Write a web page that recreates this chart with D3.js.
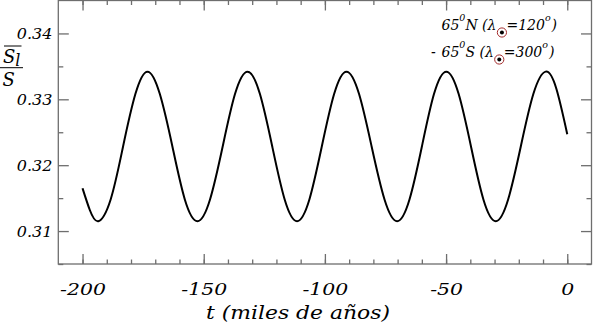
<!DOCTYPE html>
<html>
<head>
<meta charset="utf-8">
<script src="https://cdn.jsdelivr.net/npm/d3@7"></script>
<style>
  body { margin: 0; background: #fff; }
  svg { display: block; }
  .serif { font-family: 'DejaVu Serif', serif; font-style: italic; fill: #000; }
</style>
</head>
<body>
<div id="chart"></div>
<script>
// time in thousands of years, ratio S_l / S
const tValues = [-200, -197, -193.5, -188.4, -183.3, -178.2, -173.2, -168.1, -162.9, -157.8,
  -152.6, -147.4, -142.2, -137.1, -131.9, -126.8, -121.7, -116.6, -111.5, -106.4,
  -101.3, -96.2, -91.1, -85.9, -80.7, -75.4, -70.2, -65.1, -60.0, -55.0,
  -49.9, -44.8, -39.7, -34.6, -29.5, -24.4, -19.2, -14.0, -8.9, -4.5, 0];
const ratioValues = [0.3165, 0.3132, 0.3115, 0.3148, 0.3228, 0.3308, 0.3342, 0.3308, 0.3228, 0.3148,
  0.3115, 0.3148, 0.3228, 0.3308, 0.3342, 0.3308, 0.3228, 0.3148, 0.3115, 0.3148,
  0.3228, 0.3308, 0.3342, 0.3308, 0.3228, 0.3148, 0.3115, 0.3148, 0.3228, 0.3308,
  0.3342, 0.3308, 0.3228, 0.3148, 0.3115, 0.3148, 0.3228, 0.3308, 0.3342, 0.3316, 0.3247];

const xMajor = [-200, -150, -100, -50, 0];
const xMinor = d3.range(-200, 10, 10);
const yMajor = [0.31, 0.32, 0.33, 0.34];
const yMinor = [0.305, 0.315, 0.325, 0.335];
const legendLines = [
  { prefix: '', lat: '65', hemi: 'N', lambda: '120' },
  { prefix: '-', lat: '65', hemi: 'S', lambda: '300' }
];

const width = 593, height = 323;
const plotLeft = 58.3, plotRight = 591.5, plotTop = 0.5, plotBottom = 264;

const x = d3.scaleLinear().domain([-210, 10]).range([plotLeft, plotRight]);
const y = d3.scaleLinear().domain([0.305, 0.345]).range([plotBottom, plotTop]);

const svg = d3.select('#chart')
  .append('svg')
  .attr('width', width)
  .attr('height', height);

const axisColor = '#6e6e6e';

// widen the glyphs a bit, the original font is broader than DejaVu
function stretch(sel, factor) {
  sel.each(function () {
    const w = this.getComputedTextLength();
    d3.select(this)
      .attr('textLength', w * factor)
      .attr('lengthAdjust', 'spacingAndGlyphs');
  });
}

// frame
svg.append('rect')
  .attr('x', plotLeft)
  .attr('y', plotTop)
  .attr('width', plotRight - plotLeft)
  .attr('height', plotBottom - plotTop)
  .attr('fill', 'none')
  .attr('stroke', axisColor)
  .attr('stroke-width', 1.3);

function styleAxis(g) {
  g.select('.domain').remove();
  g.selectAll('.tick line').attr('stroke', axisColor).attr('stroke-width', 1.3);
}

// minor ticks on all sides
svg.append('g').attr('transform', `translate(0,${plotBottom})`)
  .call(d3.axisBottom(x).tickValues(xMinor).tickSize(-4.5).tickFormat(''))
  .call(styleAxis);
svg.append('g').attr('transform', `translate(0,${plotTop})`)
  .call(d3.axisTop(x).tickValues(xMinor).tickSize(-4.5).tickFormat(''))
  .call(styleAxis);
svg.append('g').attr('transform', `translate(${plotLeft},0)`)
  .call(d3.axisLeft(y).tickValues(yMinor).tickSize(-5).tickFormat(''))
  .call(styleAxis);
svg.append('g').attr('transform', `translate(${plotRight},0)`)
  .call(d3.axisRight(y).tickValues(yMinor).tickSize(-5).tickFormat(''))
  .call(styleAxis);

// major ticks
const xBottom = svg.append('g').attr('transform', `translate(0,${plotBottom})`)
  .call(d3.axisBottom(x).tickValues(xMajor).tickSize(-10).tickFormat(d => String(d)))
  .call(styleAxis);
xBottom.selectAll('.tick text')
  .attr('class', 'serif')
  .attr('y', 31)
  .attr('dy', null)
  .style('font-size', '17px')
  .call(stretch, 1.2);
svg.append('g').attr('transform', `translate(0,${plotTop})`)
  .call(d3.axisTop(x).tickValues(xMajor).tickSize(-10).tickFormat(''))
  .call(styleAxis);
const yLeft = svg.append('g').attr('transform', `translate(${plotLeft},0)`)
  .call(d3.axisLeft(y).tickValues(yMajor).tickSize(-10.5).tickFormat(d3.format('.2f')))
  .call(styleAxis);
yLeft.selectAll('.tick text')
  .attr('class', 'serif')
  .attr('x', -6)
  .attr('dy', '0.36em')
  .style('font-size', '14px')
  .call(stretch, 1.14);
svg.append('g').attr('transform', `translate(${plotRight},0)`)
  .call(d3.axisRight(y).tickValues(yMajor).tickSize(-10.5).tickFormat(''))
  .call(styleAxis);

// curve
const points = tValues.map((t, i) => [t, ratioValues[i]]);
const line = d3.line()
  .x(d => x(d[0]))
  .y(d => y(d[1]))
  .curve(d3.curveNatural);
svg.append('path')
  .datum(points)
  .attr('d', line)
  .attr('fill', 'none')
  .attr('stroke', '#000')
  .attr('stroke-width', 2);

// x axis title
svg.append('text')
  .attr('class', 'serif')
  .attr('x', 298)
  .attr('y', 319)
  .attr('text-anchor', 'middle')
  .style('font-size', '19px')
  .text('t (miles de años)')
  .call(stretch, 1.15);

// y axis title: overline(S_l) / S
const yl = svg.append('g');
const upper = yl.append('text')
  .attr('class', 'serif')
  .attr('x', 3)
  .attr('y', 62.7)
  .style('font-size', '18px');
upper.append('tspan').text('S');
upper.append('tspan').attr('dy', 3).style('font-size', '16px').text('l');
yl.append('line')
  .attr('x1', 4).attr('x2', 21.5).attr('y1', 46).attr('y2', 46)
  .attr('stroke', '#000').attr('stroke-width', 1);
yl.append('line')
  .attr('x1', 0).attr('x2', 23).attr('y1', 67.7).attr('y2', 67.7)
  .attr('stroke', '#000').attr('stroke-width', 1);
yl.append('text')
  .attr('class', 'serif')
  .attr('x', 2.5)
  .attr('y', 86)
  .style('font-size', '18px')
  .text('S');

// legend
const legSize = 14, supSize = 9.5;
legendLines.forEach((d, i) => {
  const baseY = 30 + i * 27;
  const startX = 441.5;
  if (d.prefix) {
    svg.append('text')
      .attr('class', 'serif')
      .attr('x', 431)
      .attr('y', baseY)
      .style('font-size', legSize + 'px')
      .text(d.prefix);
  }
  const t1 = svg.append('text')
    .attr('class', 'serif')
    .attr('x', startX)
    .attr('y', baseY)
    .style('font-size', legSize + 'px');
  t1.append('tspan').text(d.lat);
  t1.append('tspan').attr('dy', -9).style('font-size', supSize + 'px').text('0');
  t1.append('tspan').attr('dy', 9).text(d.hemi + ' (λ');
  const b1 = t1.node().getBBox();
  const cx = b1.x + b1.width + 5.5;
  const cy = baseY + 2.5;
  svg.append('circle')
    .attr('cx', cx).attr('cy', cy).attr('r', 4.6)
    .attr('fill', '#fff')
    .attr('stroke', '#a32a2a')
    .attr('stroke-width', 1);
  svg.append('circle')
    .attr('cx', cx).attr('cy', cy).attr('r', 2)
    .attr('fill', '#000');
  const t2 = svg.append('text')
    .attr('class', 'serif')
    .attr('x', cx + 4.5)
    .attr('y', baseY)
    .style('font-size', legSize + 'px');
  t2.append('tspan').text('=' + d.lambda);
  t2.append('tspan').attr('dy', -9).style('font-size', supSize + 'px').text('o');
  t2.append('tspan').attr('dy', 9).attr('dx', 1).text(')');
});
</script>
</body>
</html>
